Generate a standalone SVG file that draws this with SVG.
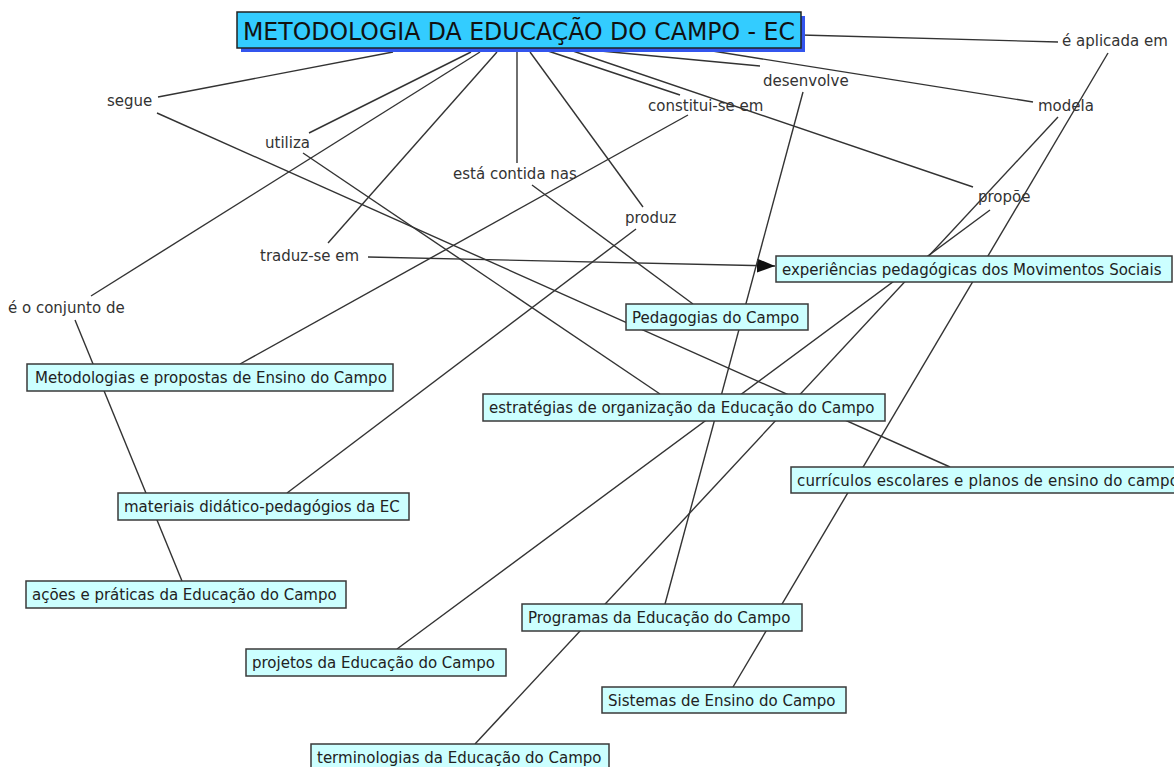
<svg xmlns="http://www.w3.org/2000/svg" width="1174" height="767" viewBox="0 0 1174 767">
<defs>
<style>
.c{stroke:#333;stroke-width:1.4;fill:none}
.n{fill:#ccffff;stroke:#3a3a3a;stroke-width:1.5}
.t{font-family:"DejaVu Sans","Verdana",sans-serif;font-size:15px;fill:#222}
.l{font-family:"DejaVu Sans","Verdana",sans-serif;font-size:15px;fill:#333}
</style>
<marker id="arr" markerUnits="userSpaceOnUse" markerWidth="20" markerHeight="14" refX="18" refY="7" orient="auto">
<path d="M0,0 L18,7 L0,14 Z" fill="#111"/>
</marker>
</defs>
<rect width="1174" height="767" fill="#fff"/>
<g id="connectors">
<path class="c" d="M393,52 L158,97"/>
<path class="c" d="M157,113 L950,467"/>
<path class="c" d="M471,52 L309,133"/>
<path class="c" d="M303,153 L660,394"/>
<path class="c" d="M480,52 L91,296"/>
<path class="c" d="M75,320 L182,581"/>
<path class="c" d="M497,52 L328,243"/>
<path class="c" d="M368,257 L775,266" marker-end="url(#arr)"/>
<path class="c" d="M517,52 L517,163"/>
<path class="c" d="M532,185 L693,304"/>
<path class="c" d="M530,52 L643,207"/>
<path class="c" d="M636,229 L287,493"/>
<path class="c" d="M545,50 L680,95"/>
<path class="c" d="M688,115 L240,364"/>
<path class="c" d="M590,50 L760,66"/>
<path class="c" d="M803,92 L665,604"/>
<path class="c" d="M570,50 L973,187"/>
<path class="c" d="M990,210 L397,649"/>
<path class="c" d="M700,49 L1033,102"/>
<path class="c" d="M1058,117 L475,744"/>
<path class="c" d="M801,35 L1058,42"/>
<path class="c" d="M1108,53 L733,687"/>
</g>
<g id="title">
<rect x="241" y="16" width="564" height="36" fill="#3355ee"/>
<rect x="237" y="12" width="564" height="36" fill="#33ccff" stroke="#222" stroke-width="1.5"/>
<text x="243" y="40" font-family="DejaVu Sans, Verdana, sans-serif" font-size="24" fill="#111" textLength="552" lengthAdjust="spacingAndGlyphs">METODOLOGIA DA EDUCAÇÃO DO CAMPO - EC</text>
</g>
<g id="lbl-segue"><text class="l" x="107" y="106">segue</text></g>
<g id="lbl-utiliza"><text class="l" x="265" y="148">utiliza</text></g>
<g id="lbl-conjunto"><text class="l" x="8" y="313">é o conjunto de</text></g>
<g id="lbl-traduz"><text class="l" x="260" y="261">traduz-se em</text></g>
<g id="lbl-contida"><text class="l" x="453" y="179">está contida nas</text></g>
<g id="lbl-produz"><text class="l" x="625" y="223">produz</text></g>
<g id="lbl-constitui"><text class="l" x="648" y="111">constitui-se em</text></g>
<g id="lbl-desenvolve"><text class="l" x="763" y="86">desenvolve</text></g>
<g id="lbl-propoe"><text class="l" x="978" y="202">propõe</text></g>
<g id="lbl-modela"><text class="l" x="1038" y="111">modela</text></g>
<g id="lbl-aplicada"><text class="l" x="1062" y="46">é aplicada em</text></g>
<g id="n-experiencias"><rect class="n" x="776" y="256" width="396" height="26"/><text class="t" x="782" y="275">experiências pedagógicas dos Movimentos Sociais</text></g>
<g id="n-pedagogias"><rect class="n" x="626" y="304" width="182" height="26"/><text class="t" x="632" y="323">Pedagogias do Campo</text></g>
<g id="n-metodologias"><rect class="n" x="27" y="364" width="366" height="27"/><text class="t" x="35" y="383">Metodologias e propostas de Ensino do Campo</text></g>
<g id="n-estrategias"><rect class="n" x="483" y="394" width="402" height="27"/><text class="t" x="489" y="413">estratégias de organização da Educação do Campo</text></g>
<g id="n-curriculos"><rect class="n" x="791" y="467" width="400" height="26"/><text class="t" x="797" y="486" textLength="382" lengthAdjust="spacing">currículos escolares e planos de ensino do campo</text></g>
<g id="n-materiais"><rect class="n" x="118" y="493" width="291" height="27"/><text class="t" x="124" y="512">materiais didático-pedagógios da EC</text></g>
<g id="n-acoes"><rect class="n" x="26" y="581" width="320" height="27"/><text class="t" x="32" y="600">ações e práticas da Educação do Campo</text></g>
<g id="n-programas"><rect class="n" x="522" y="604" width="280" height="27"/><text class="t" x="528" y="623">Programas da Educação do Campo</text></g>
<g id="n-projetos"><rect class="n" x="246" y="649" width="260" height="27"/><text class="t" x="252" y="668">projetos da Educação do Campo</text></g>
<g id="n-sistemas"><rect class="n" x="602" y="687" width="244" height="26"/><text class="t" x="608" y="706">Sistemas de Ensino do Campo</text></g>
<g id="n-terminologias"><rect class="n" x="311" y="744" width="298" height="28"/><text class="t" x="317" y="763">terminologias da Educação do Campo</text></g>
</svg>
